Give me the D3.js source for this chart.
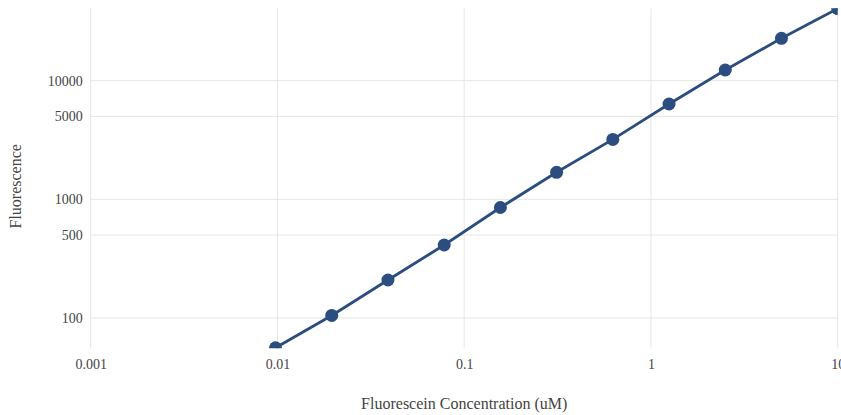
<!DOCTYPE html>
<html>
<head>
<meta charset="utf-8">
<script src="https://cdn.jsdelivr.net/npm/d3@7"></script>
<style>
  body { margin: 0; background: #fff; }
  text { font-family: "Liberation Serif", "Times New Roman", serif; fill: #444; }
</style>
</head>
<body>
<div id="chart"></div>
<script>
// Data: fluorescein dilution series (uM) and measured fluorescence
const concentrations = [0.009766, 0.01953, 0.03906, 0.07813, 0.15625, 0.3125, 0.625, 1.25, 2.5, 5, 10];
const fluorescence = [56, 105, 209, 412, 853, 1690, 3200, 6360, 12300, 22760, 40500];
const xTicks = [0.001, 0.01, 0.1, 1, 10];
const yTicks = [100, 500, 1000, 5000, 10000];

const config = {
    width: 841,
    height: 415,
    margin: { top: 8.3, right: 3.3, bottom: 66.7, left: 90.7 },
    color: '#2c4d80'
};

const innerW = config.width - config.margin.left - config.margin.right;
const innerH = config.height - config.margin.top - config.margin.bottom;

const svg = d3.select('#chart')
    .append('svg')
    .attr('width', config.width)
    .attr('height', config.height);

const g = svg.append('g')
    .attr('transform', `translate(${config.margin.left},${config.margin.top})`);

const x = d3.scaleLog().domain([0.001, 10]).range([0, innerW]);
const y = d3.scaleLog().domain([55.5, 40750]).range([innerH, 0]);

// Gridlines
g.selectAll('.xgrid')
    .data(xTicks)
    .join('line')
    .attr('class', 'xgrid')
    .attr('x1', d => x(d)).attr('x2', d => x(d))
    .attr('y1', 0).attr('y2', innerH)
    .attr('stroke', '#e6e6e6')
    .attr('stroke-width', 1);

g.selectAll('.ygrid')
    .data(yTicks)
    .join('line')
    .attr('class', 'ygrid')
    .attr('x1', 0).attr('x2', innerW)
    .attr('y1', d => y(d)).attr('y2', d => y(d))
    .attr('stroke', '#e6e6e6')
    .attr('stroke-width', 1);

// Axes (labels only)
const xAxis = g.append('g')
    .attr('transform', `translate(0,${innerH})`)
    .call(d3.axisBottom(x).tickValues(xTicks).tickFormat(d => String(d)).tickSize(0).tickPadding(11));
xAxis.select('.domain').remove();
xAxis.selectAll('text')
    .style('font-family', '"Liberation Serif", serif')
    .style('font-size', '14px')
    .attr('fill', '#444');

const yAxis = g.append('g')
    .call(d3.axisLeft(y).tickValues(yTicks).tickFormat(d => String(d)).tickSize(0).tickPadding(8));
yAxis.select('.domain').remove();
yAxis.selectAll('text')
    .style('font-family', '"Liberation Serif", serif')
    .style('font-size', '14px')
    .attr('fill', '#444');

// Axis titles
svg.append('text')
    .attr('x', config.margin.left + innerW / 2)
    .attr('y', 409)
    .attr('text-anchor', 'middle')
    .style('font-size', '16px')
    .text('Fluorescein Concentration (uM)');

svg.append('text')
    .attr('transform', `translate(21,${config.margin.top + innerH / 2 + 8}) rotate(-90)`)
    .attr('text-anchor', 'middle')
    .style('font-size', '16px')
    .text('Fluorescence');

// Clip to plot area
svg.append('defs').append('clipPath')
    .attr('id', 'plot-clip')
    .append('rect')
    .attr('width', innerW)
    .attr('height', innerH);

const points = concentrations.map((c, i) => ({ c, f: fluorescence[i] }));

const plot = g.append('g').attr('clip-path', 'url(#plot-clip)');

const line = d3.line()
    .x(d => x(d.c))
    .y(d => y(d.f));

plot.append('path')
    .datum(points)
    .attr('d', line)
    .attr('fill', 'none')
    .attr('stroke', config.color)
    .attr('stroke-width', 2.8);

plot.selectAll('.dot')
    .data(points)
    .join('circle')
    .attr('class', 'dot')
    .attr('cx', d => x(d.c))
    .attr('cy', d => y(d.f))
    .attr('r', 6.5)
    .attr('fill', config.color);
</script>
</body>
</html>
